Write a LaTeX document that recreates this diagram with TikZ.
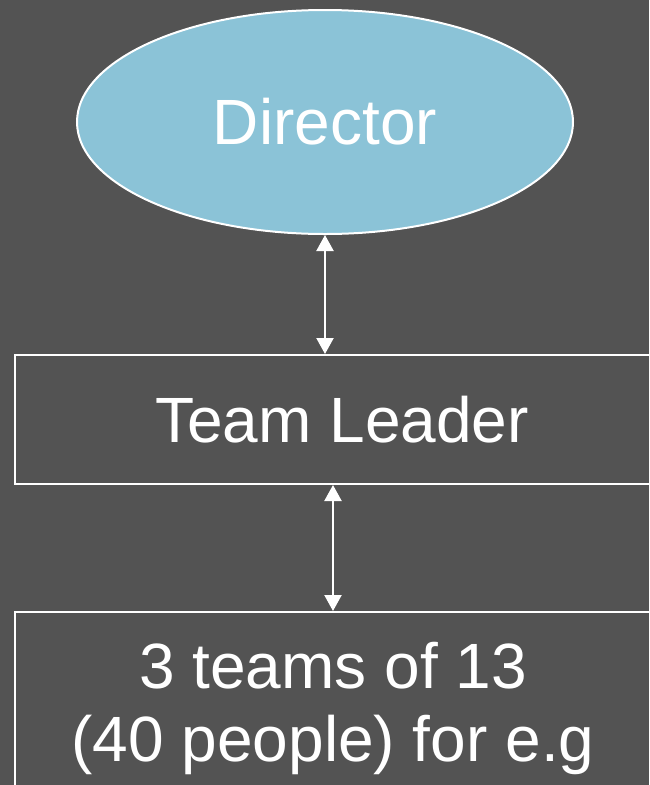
\documentclass[tikz,border=0pt]{standalone}
\usepackage{fontspec}
\setmainfont{Liberation Sans}
\usetikzlibrary{arrows.meta,shapes.geometric}
\definecolor{bgdark}{HTML}{535353}
\definecolor{chiefblue}{HTML}{8BC3D7}
\begin{document}
\begin{tikzpicture}[x=1pt,y=-1pt,
		big/.style={text=white, font=\fontsize{64}{73}\selectfont, inner sep=0pt},
		level/.style={big, draw=white, line width=2pt, align=center},
		link/.style={white, line width=2.2pt, {Triangle[width=17pt,length=16pt]}-{Triangle[width=17pt,length=16pt]}}]
				\fill[bgdark] (0,0) rectangle (649,785);
				\useasboundingbox (0,0) rectangle (649,785);
				\clip (0,0) rectangle (649,785);
				
				\node[big, ellipse, draw=white, line width=2pt, fill=chiefblue, minimum width=496pt, minimum height=224pt] (director) at (325,122) {Director};
				\node[level, minimum width=654pt, minimum height=129pt] (leader) at (342,419.5) {Team Leader};
				\node[level, minimum width=636pt, minimum height=192pt] (crew) at (333,708) {3 teams of 13\\(40 people) for e.g};
				
				\draw[link] (director.south) -- (director.south |- leader.north);
				\draw[link] (leader.south -| crew.north) -- (crew.north);
			\end{tikzpicture}
\end{document}
